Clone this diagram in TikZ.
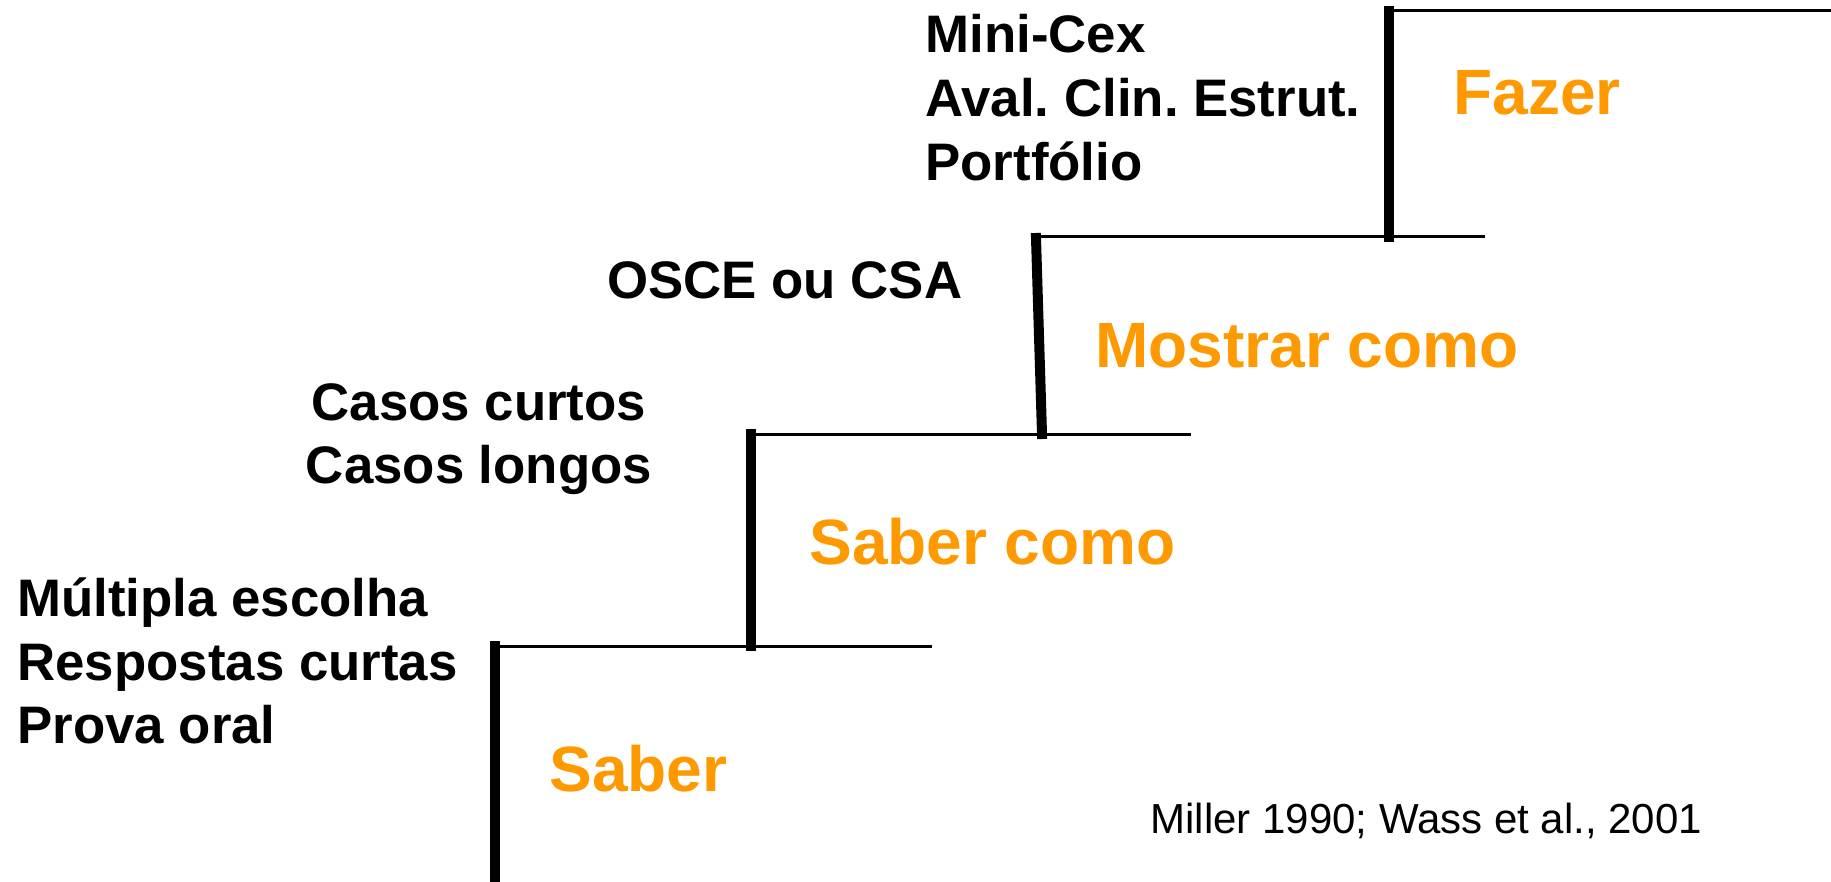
\documentclass[tikz,border=0pt]{standalone}
\usepackage{fontspec}
\setmainfont{Liberation Sans}
\frenchspacing
\definecolor{stepor}{RGB}{255,153,0}
\begin{document}
\begin{tikzpicture}[x=0.5pt,y=-0.5pt,
  riser/.style={line width=5pt,line cap=rect},
  tread/.style={line width=1.5pt},
  method/.style={font=\fontsize{26.4}{30}\selectfont\bfseries, inner sep=0pt, anchor=base west},
  methodc/.style={method, anchor=base},
  level/.style={font=\fontsize{32}{38}\selectfont\bfseries, text=stepor, inner sep=0pt, anchor=base west},
  refnote/.style={font=\fontsize{21}{25}\selectfont, inner sep=0pt, anchor=base west}]
\useasboundingbox[fill=white] (0,0) rectangle (1831,882);
% staircase
\draw[tread] (1389,11) -- (1831,11);
\draw[riser] (1389,11) -- (1389,237);
\draw[tread] (1040,237) -- (1485,237);
\draw[riser] (1036,238) -- (1042,434);
\draw[tread] (751,434) -- (1191,434);
\draw[riser] (751,434) -- (751,646);
\draw[tread] (495,646) -- (932,646);
\draw[riser] (495,646) -- (495,882);
% methods
\node[method] (m1) at (925,53) {Mini-Cex};
\node[method] (m2) at (925,117) {Aval. Clin. Estrut.};
\node[method] (m3) at (925,181) {Portfólio};
\node[method] (o1) at (607,299) {OSCE ou CSA};
\node[methodc] (c1) at (479,420) {Casos curtos};
\node[methodc] (c2) at (479,483) {Casos longos};
\node[method] (s1) at (17,616) {Múltipla escolha};
\node[method] (s2) at (17,680) {Respostas curtas};
\node[method] (s3) at (17,743) {Prova oral};
% levels
\node[level] (l4) at (1453,115) {Fazer};
\node[level] (l3) at (1095,367) {Mostrar como};
\node[level] (l2) at (809,564) {Saber como};
\node[level] (l1) at (549,791) {Saber};
% reference
\node[refnote] (rf) at (1150,833) {Miller 1990; Wass et al., 2001};
\end{tikzpicture}
\end{document}
